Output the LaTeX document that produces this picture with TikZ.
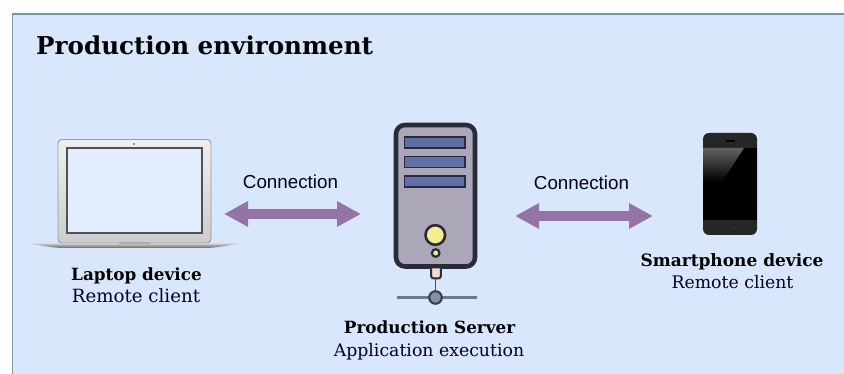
\documentclass[tikz,border=0pt]{standalone}
\usepackage{fontspec}
\setmainfont{DejaVu Serif}
\newfontfamily\connfont{Liberation Sans}
\usetikzlibrary{arrows.meta}
\definecolor{panelfill}{HTML}{D8E7FC}
\definecolor{panelline}{HTML}{7592C4}
\definecolor{arrowcol}{HTML}{9673A6}
\definecolor{srvdark}{HTML}{2B2B38}
\definecolor{srvbody}{HTML}{ABA7B9}
\definecolor{srvbar}{HTML}{5F6FA8}
\definecolor{srvyellow}{HTML}{F6EE8A}
\definecolor{plugcol}{HTML}{F5DACB}
\definecolor{hubcol}{HTML}{7C93A8}
\definecolor{netline}{HTML}{6C7A8A}
\tikzset{
  x=1pt,y=-1pt,
  lbl/.style={inner sep=0pt,anchor=base,text=black},
  boldlbl/.style={lbl,font=\fontsize{#1}{#1}\selectfont\bfseries},
  pluslbl/.style={lbl,text=black!85!blue,font=\fontsize{#1}{#1}\selectfont},
  connlbl/.style={lbl,text=black!90!blue,font=\connfont\fontsize{18.8}{18.8}\selectfont},
  link/.style={arrowcol,line width=10pt,
    {Triangle[length=24pt,width=24pt]}-{Triangle[length=24pt,width=24pt]}},
  pt/.style={inner sep=0pt,minimum size=0pt},
}
\begin{document}
\begin{tikzpicture}
\useasboundingbox (0,0) rectangle (844,374);
\fill[white] (0,0) rectangle (844,374);
% panel
\fill[panelfill] (12,14) rectangle (844,374);
\draw[panelline,line width=1.1pt] (12.5,374) -- (12.5,14) -- (844,14);
\node[boldlbl=24.6,anchor=base west] (title) at (36,54.7) {Production environment};

% laptop
\shade[top color=black!6,bottom color=black!20,draw=black!40,line width=.9pt,rounded corners=4pt]
  (58,243) -- (58,139.5) -- (211,139.5) -- (211,243) -- cycle;
\fill[panelfill!75!white] (67,148) rectangle (202,233);
\draw[black!68,line width=1.2pt] (67,148) rectangle (202,233);
\fill[black!80] (134,144) circle (.9);
\shade[top color=black!20,bottom color=black!60]
  (29,243.5) -- (239,243.5) .. controls (225,246) and (215,248) .. (205,248)
  -- (64,248) .. controls (54,248) and (44,246) .. (29,243.5) -- cycle;
\fill[black!32] (119,242) rectangle (150,244);
\node[pt] (laptop) at (134.5,193) {};

% server
\draw[srvdark,fill=srvbody,line width=4.6pt,rounded corners=9pt] (396,125) rectangle (475,266.5);
\foreach \yy in {137,156.5,176}
  \draw[srvdark,fill=srvbar,line width=1.8pt] (404.5,\yy) rectangle (465,\yy+11);
\draw[srvdark,fill=srvyellow,line width=2.6pt] (435.3,235) circle (9.8);
\draw[srvdark,fill=srvyellow,line width=2.2pt] (435.7,253) circle (3.8);
\draw[netline,line width=2.4pt] (397,297.5) -- (477,297.5);
\draw[srvdark!85,line width=1.8pt] (435.5,278) -- (435.5,291);
\draw[srvdark,fill=plugcol,line width=2pt,rounded corners=2.5pt] (431.2,268.5) -- (431.2,278.5) -- (440.8,278.5) -- (440.8,268.5);
\draw[srvdark!80!netline,fill=hubcol,line width=2pt] (435.5,297.5) circle (6.3);
\node[pt] (server) at (435.5,195) {};

% phone
\fill[black!85,rounded corners=6pt] (703,133) rectangle (757,235);
\fill[black] (703,148) rectangle (757,220);
\shade[top color=black!62,bottom color=black] (703,148) -- (744,148) -- (722,182) -- (703,182) -- cycle;
\fill[black] (726,140.5) rectangle (735,142);
\fill[black!55] (734,227.5) circle (.5);
\node[pt] (phone) at (730,184) {};

% arrows
\coordinate (la) at (224,214);
\coordinate (lb) at (361,214);
\coordinate (ra) at (515,216);
\coordinate (rb) at (653,216);
\draw[link] (la) -- (lb);
\draw[link] (ra) -- (rb);

% labels
\node[connlbl] (c1) at (290.5,188.5) {Connection};
\node[connlbl] (c2) at (581.5,190) {Connection};
\node[boldlbl=16.8] (l1) at (136.5,280.5) {Laptop device};
\node[pluslbl=18.2] (l2) at (136,303) {Remote client};
\node[boldlbl=16.8] (s1) at (429.5,334) {Production Server};
\node[pluslbl=17.3] (s2) at (429,356) {Application execution};
\node[boldlbl=17] (p1) at (732,266.5) {Smartphone device};
\node[pluslbl=17.3] (p2) at (732.5,288.5) {Remote client};
\end{tikzpicture}
\end{document}
